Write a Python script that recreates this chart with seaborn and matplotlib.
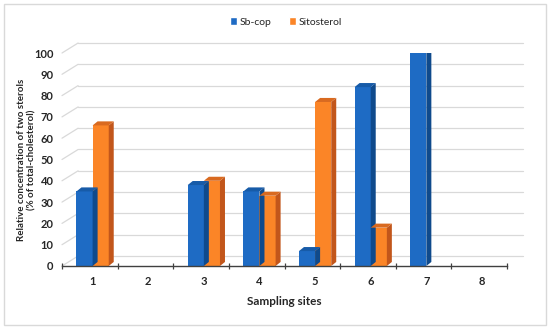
import matplotlib
matplotlib.use("Agg")
import matplotlib.pyplot as plt
import seaborn as sns
import pandas as pd
from matplotlib.patches import Polygon, Rectangle

sites = ["1", "2", "3", "4", "5", "6", "7", "8"]
sb_cop = [35, 0, 38, 35, 7, 84, 100, 0]
sitosterol = [66, 0, 40, 33, 77, 18, 0, 0]
series = ["Sb-cop", "Sitosterol"]
yticks = [0, 10, 20, 30, 40, 50, 60, 70, 80, 90, 100]

colors = {"Sb-cop": "#1E6BC4", "Sitosterol": "#FB8527"}
side_colors = {"Sb-cop": "#0F4A8C", "Sitosterol": "#C2561B"}
top_colors = {"Sb-cop": "#175BA8", "Sitosterol": "#D96A20"}

df = pd.DataFrame({
    "site": sites * 2,
    "series": [series[0]] * len(sites) + [series[1]] * len(sites),
    "value": sb_cop + sitosterol,
})

sns.set_theme(style="white")
plt.rcParams["font.family"] = ["Lato", "DejaVu Sans"]

fig = plt.figure(figsize=(5.5, 3.29), dpi=100)
ax = fig.add_axes([62/550, 1-266/329, (507-62)/550, (266-53)/329])

sns.barplot(data=df, x="site", y="value", hue="series", palette=colors,
            width=0.58, saturation=1, ax=ax, legend=False, linewidth=0)

ax.set_xlim(-0.55, 7.45)
ax.set_ylim(0, 100)

# 3D-like depth for bars
dx, dy = 0.09, 1.9
values = {"Sb-cop": sb_cop, "Sitosterol": sitosterol}
pairs = [(s, v) for s in series for v in values[s]]
for patch, (s, v) in zip(ax.patches, pairs):
    x0 = patch.get_x()
    w = patch.get_width()
    h = patch.get_height()
    if h <= 0:
        continue
    side = Polygon([(x0 + w, 0), (x0 + w + dx, dy), (x0 + w + dx, h + dy), (x0 + w, h)],
                   closed=True, facecolor=side_colors[s], edgecolor="none", zorder=patch.get_zorder())
    top = Polygon([(x0, h), (x0 + dx, h + dy), (x0 + w + dx, h + dy), (x0 + w, h)],
                  closed=True, facecolor=top_colors[s], edgecolor="none", zorder=patch.get_zorder())
    ax.add_patch(side)
    ax.add_patch(top)

# back wall gridlines and diagonal ticks
x_left, x_right = -0.55, 7.45
wx, wy = 0.29, 4.7
for t in yticks:
    ax.plot([x_left + wx, x_right + wx], [t + wy, t + wy], color="#d9d9d9", lw=0.9, zorder=0, clip_on=False)
    ax.plot([x_left, x_left + wx], [t, t + wy], color="#d9d9d9", lw=0.9, zorder=0, clip_on=False)

for sp in ["top", "right", "left"]:
    ax.spines[sp].set_visible(False)
ax.spines["bottom"].set_color("#404040")
ax.spines["bottom"].set_linewidth(1.0)

ax.set_yticks(yticks)
ax.set_yticklabels([str(t) for t in yticks], fontsize=8, fontweight="bold", color="#262626")
ax.tick_params(axis="y", length=0, pad=6)
ax.set_xticks(range(len(sites)))
ax.set_xticklabels(sites, fontsize=8, fontweight="bold", color="#262626")
ax.tick_params(axis="x", length=0, pad=7)
ax.set_xticks([i - 0.55 for i in range(len(sites) + 1)], minor=True)
ax.tick_params(axis="x", which="minor", length=5, direction="inout", color="#404040", width=0.9, bottom=True)

ax.set_xlabel("Sampling sites", fontsize=8.5, fontweight="bold", color="#262626", labelpad=7)
ax.set_ylabel("")
fig.text(27/550, 1-160/329, "Relative concentration of two sterols\n(% of total-cholesterol)",
         rotation=90, ha="center", va="center", fontsize=7, fontweight="bold", color="#262626",
         multialignment="center", linespacing=1.25)

handles = [Rectangle((0, 0), 1, 1, facecolor=colors[s]) for s in series]
fig.legend(handles, series, loc="center", bbox_to_anchor=(0.52, 1-22/329), ncol=2, frameon=False,
           fontsize=7.5, handlelength=0.7, handleheight=0.7, handletextpad=0.3, columnspacing=1.6)

fig.patches.append(Rectangle((4/550, 4/329), 1-8/550, 1-8/329, transform=fig.transFigure,
                             fill=False, edgecolor="#d9d9d9", lw=1.0))

fig.savefig("out.png", dpi=100, facecolor="white")
